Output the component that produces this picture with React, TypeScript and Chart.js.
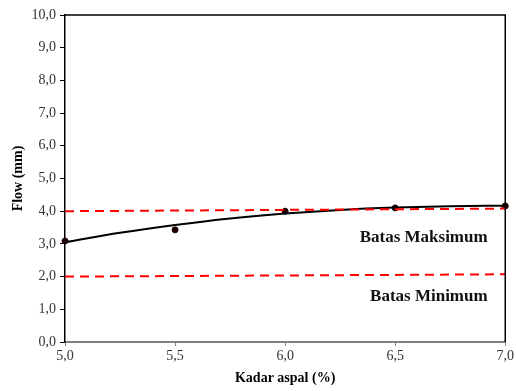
import React, { useEffect, useRef } from "react";
import { Chart, registerables } from "chart.js";
Chart.register(...registerables);

const kadarAspal = [5.0, 5.5, 6.0, 6.5, 7.0];
const flowValues = [3.09, 3.43, 4.0, 4.1, 4.16];
const trendX = [5.0, 5.25, 5.5, 5.75, 6.0, 6.25, 6.5, 6.75, 7.0];
const trendY = [3.05, 3.34, 3.58, 3.78, 3.93, 4.04, 4.11, 4.15, 4.17];
const batasMaksX = [5.0, 7.0];
const batasMaksY = [4.0, 4.08];
const batasMinX = [5.0, 7.0];
const batasMinY = [2.0, 2.07];
const labelMaks = "Batas Maksimum";
const labelMin = "Batas Minimum";
const xTitle = "Kadar aspal (%)";
const yTitle = "Flow (mm)";

const fmt = (v: number) => v.toFixed(1).replace(".", ",");

const framePlugin = {
  id: "frame",
  afterDatasetsDraw(chart: any) {
    const { ctx, chartArea: a, scales } = chart;
    ctx.save();
    ctx.strokeStyle = "#000";
    ctx.lineWidth = 1.5;
    ctx.beginPath();
    ctx.moveTo(a.left, a.top);
    ctx.lineTo(a.right, a.top);
    ctx.lineTo(a.right, a.bottom);
    ctx.stroke();
    ctx.font = "bold 17px 'Liberation Serif', serif";
    ctx.fillStyle = "#111";
    ctx.textAlign = "right";
    ctx.textBaseline = "middle";
    const x = scales.x.getPixelForValue(6.92);
    ctx.fillText(labelMaks, x, scales.y.getPixelForValue(3.2));
    ctx.fillText(labelMin, x, scales.y.getPixelForValue(1.38));
    ctx.restore();
  },
};

export default function App() {
  const ref = useRef<HTMLCanvasElement>(null);
  useEffect(() => {
    const chart = new Chart(ref.current!, {
      type: "scatter",
      data: {
        datasets: [
          {
            data: batasMaksX.map((x, i) => ({ x, y: batasMaksY[i] })),
            showLine: true,
            borderColor: "#ff0000",
            borderWidth: 2,
            borderDash: [9, 6],
            pointRadius: 0,
          },
          {
            data: batasMinX.map((x, i) => ({ x, y: batasMinY[i] })),
            showLine: true,
            borderColor: "#ff0000",
            borderWidth: 2,
            borderDash: [9, 6],
            pointRadius: 0,
          },
          {
            data: trendX.map((x, i) => ({ x, y: trendY[i] })),
            showLine: true,
            borderColor: "#000",
            borderWidth: 2,
            tension: 0.4,
            cubicInterpolationMode: "monotone",
            pointRadius: 0,
          },
          {
            data: kadarAspal.map((x, i) => ({ x, y: flowValues[i] })),
            showLine: false,
            backgroundColor: "#200000",
            borderColor: "#200000",
            pointRadius: 3,
          },
        ],
      } as any,
      options: {
        animation: false,
        responsive: false,
        clip: false as any,
        layout: { padding: { top: 15, right: 9, left: 0, bottom: 0 } },
        plugins: { legend: { display: false }, tooltip: { enabled: false } },
        scales: {
          x: {
            type: "linear",
            min: 5,
            max: 7,
            afterFit: (s: any) => { s.height = 49; },
            ticks: {
              stepSize: 0.5,
              callback: (v: any) => fmt(Number(v)),
              color: "#333",
              font: { family: "'Liberation Serif', serif", size: 14 },
              padding: 2,
              maxRotation: 0,
            },
            grid: { drawOnChartArea: false, drawTicks: true, tickLength: 4, color: "#808080" },
            border: { color: "#808080", width: 2 },
            title: {
              display: true,
              text: xTitle,
              color: "#000",
              font: { family: "'Liberation Serif', serif", size: 14, weight: "bold" },
              padding: { top: 2, bottom: 4 },
            },
          },
          y: {
            min: 0,
            max: 10,
            afterFit: (s: any) => { s.width = 65; },
            ticks: {
              stepSize: 1,
              callback: (v: any) => fmt(Number(v)),
              color: "#333",
              font: { family: "'Liberation Serif', serif", size: 14 },
              padding: 4,
            },
            grid: { drawOnChartArea: false, drawTicks: true, tickLength: 5, color: "#000" },
            border: { color: "#000", width: 1.5 },
            title: {
              display: true,
              text: yTitle,
              color: "#000",
              font: { family: "'Liberation Serif', serif", size: 14, weight: "bold" },
              padding: { top: 10, bottom: 2 },
            },
          },
        },
      } as any,
      plugins: [framePlugin],
    });
    return () => chart.destroy();
  }, []);
  return (
    <div style={{ position: "fixed", left: 0, top: 0, width: 516, height: 391, background: "#fff" }}>
      <canvas ref={ref} width={516} height={391} />
    </div>
  );
}
